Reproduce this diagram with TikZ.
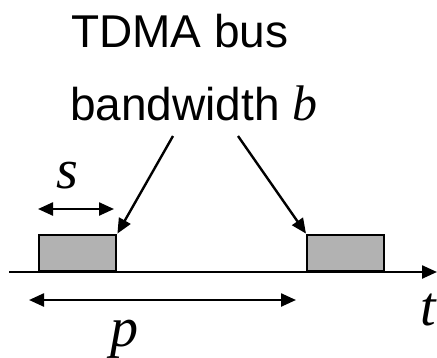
\documentclass[tikz,border=0pt]{standalone}
\usepackage{fontspec}
\setmainfont{Liberation Sans}
\newfontfamily\varfont{Liberation Serif}
\usetikzlibrary{arrows.meta}
\begin{document}
\begin{tikzpicture}[x=1pt,y=-1pt, line width=2.4pt,
  tip/.tip={Triangle[length=15pt,width=13pt]},
  arr/.style={-tip},
  darr/.style={tip-tip},
  slot/.style={draw, fill=gray!60, minimum width=77pt, minimum height=36pt, inner sep=0pt, anchor=south west},
  lbl/.style={font=\fontsize{46}{55}\selectfont, inner sep=0pt, anchor=base west},
  var/.style={font=\fontsize{56}{66}\selectfont\varfont\itshape, inner sep=0pt, anchor=base}]
\useasboundingbox (0,0) rectangle (437,357);
% labels
\node[lbl] (l1) at (70,47) {TDMA bus};
\node[lbl] (l2) at (69,120) {bandwidth {\fontsize{50}{60}\selectfont\varfont\itshape b}};
% slots
\node[slot] (box1) at (38,272) {};
\node[slot] (box2) at (306,272) {};
% time axis
\coordinate (a0) at (9,272);
\coordinate (a1) at (437,272);
\draw[arr] (a0) -- (a1);
% pointers
\coordinate (p1) at (173,136);
\coordinate (p2) at (238,136);
\draw[arr] (p1) -- (box1.north east);
\draw[arr] (p2) -- (box2.north west);
% s
\coordinate (s0) at (38,209);
\coordinate (s1) at (114,209);
\draw[darr] (s0) -- (s1);
\node[var] (s) at (67,188) {s};
% p
\coordinate (q0) at (29,300);
\coordinate (q1) at (296,300);
\draw[darr] (q0) -- (q1);
\node[var] (p) at (124,346) {p};
% t
\node[var] (t) at (428,325) {t};
\end{tikzpicture}
\end{document}
